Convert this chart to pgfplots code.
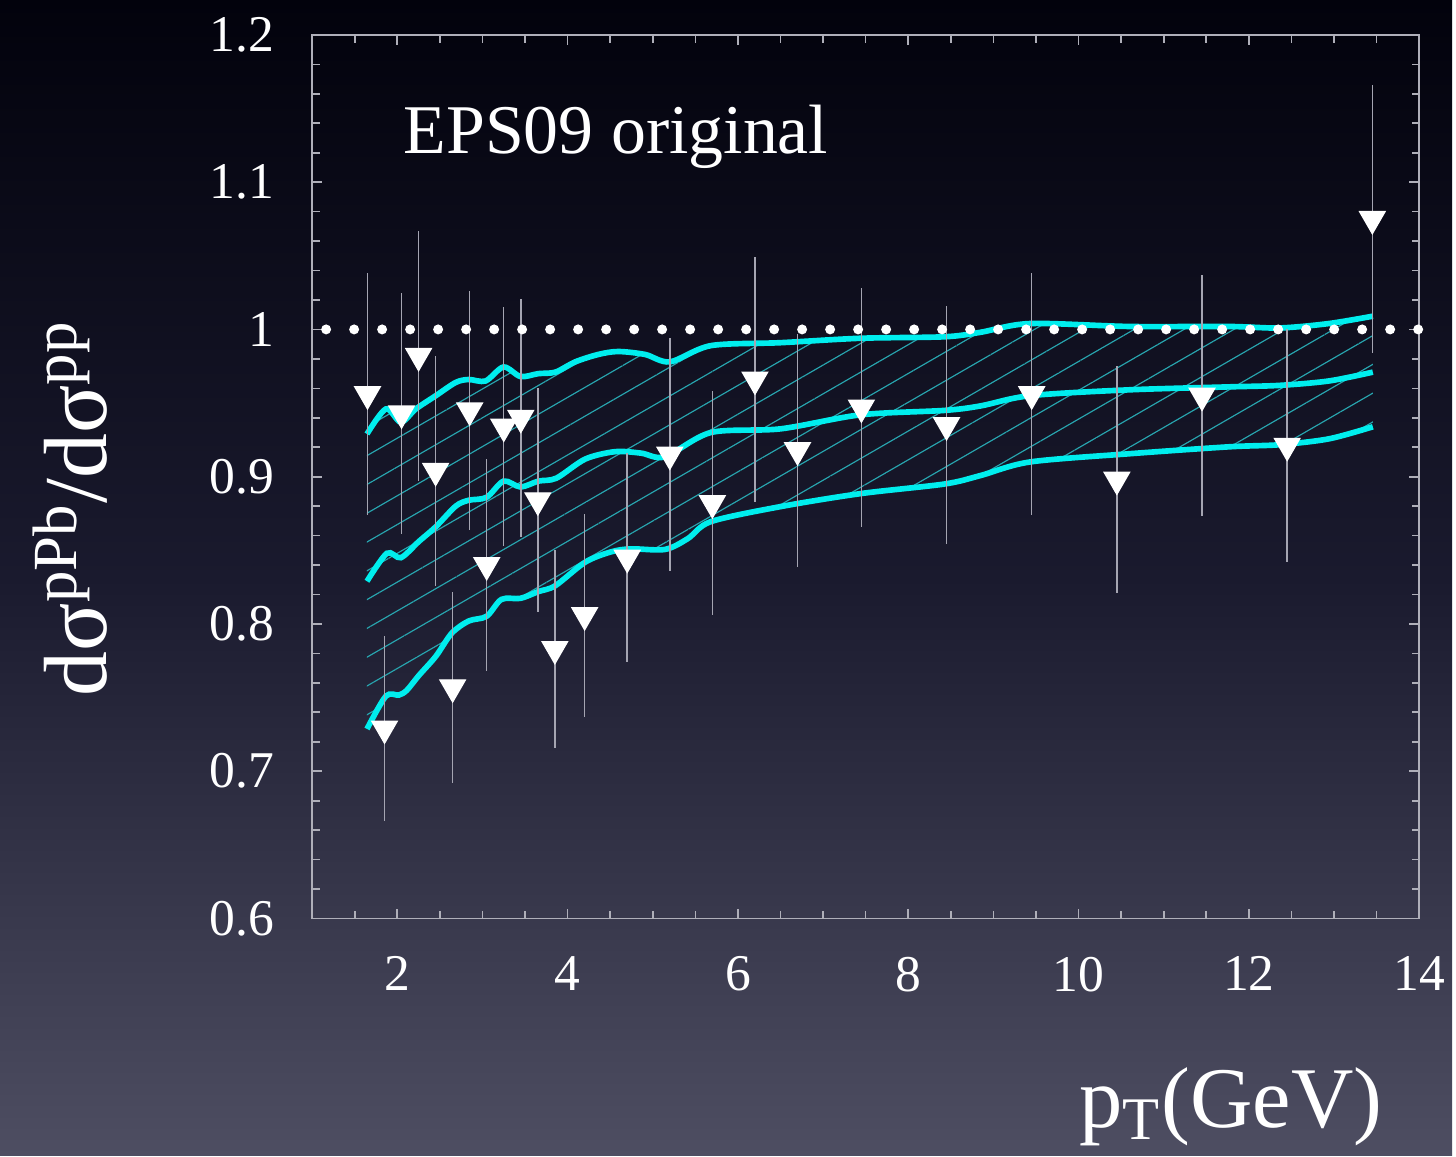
\documentclass[border=0pt]{standalone}
\usepackage{fontspec}
\setmainfont{Liberation Serif}
\usepackage{pgfplots}
\pgfplotsset{compat=1.18}
\usepgfplotslibrary{fillbetween}
\usetikzlibrary{patterns.meta}
\definecolor{bgtop}{RGB}{2,2,12}
\definecolor{bgmid}{RGB}{26,26,46}
\definecolor{bgbot}{RGB}{78,78,98}
\definecolor{curve}{RGB}{0,238,238}
\definecolor{hatch}{RGB}{40,165,175}
\definecolor{axgray}{RGB}{175,175,185}
\definecolor{errgray}{RGB}{165,165,178}

\pgfplotstableread{
x y e
1.65 0.956 0.082
1.85 0.729 0.063
2.05 0.943 0.082
2.25 0.982 0.085
2.45 0.904 0.078
2.65 0.757 0.065
2.85 0.945 0.081
3.05 0.840 0.072
3.25 0.934 0.081
3.45 0.940 0.081
3.65 0.884 0.076
3.85 0.783 0.067
4.2 0.806 0.069
4.7 0.845 0.071
5.2 0.915 0.079
5.7 0.882 0.076
6.2 0.966 0.083
6.7 0.918 0.079
7.45 0.947 0.081
8.45 0.935 0.081
9.45 0.956 0.082
10.45 0.898 0.077
11.45 0.955 0.082
12.45 0.921 0.079
13.45 1.075 0.091
}\datatable

\begin{document}
\begin{tikzpicture}
\begin{axis}[
  at={(0,0)}, anchor=south west,
  scale only axis, width=333pt, height=265.8pt,
  xmin=1, xmax=14, ymin=0.6, ymax=1.2,
  clip=false,
  set layers,
  xtick={2,4,6,8,10,12,14},
  ytick={0.6,0.7,0.8,0.9,1,1.1,1.2},
  minor xtick={1,1.5,...,14},
  minor ytick={0.6,0.62,...,1.19},
  xtick pos=both, ytick pos=both,
  xticklabel pos=lower, yticklabel pos=left,
  tick align=inside,
  major tick length=3pt, minor tick length=2.3pt,
  tick style={axgray, line width=0.5pt},
  axis line style={axgray, line width=0.5pt},
  /pgf/number format/assume math mode=true,
  yticklabel style={/pgf/number format/fixed, /pgf/number format/precision=1, xshift=-8pt},
  xticklabel style={yshift=-8pt},
  tick label style={white, font=\fontsize{15.5}{18}\selectfont},
  xlabel={p\textsubscript{T}(GeV)},
  xlabel style={at={(axis description cs:0.83,-0.213)}, anchor=center, white, font=\fontsize{26}{30}\selectfont},
  ylabel={dσ\textsuperscript{pPb}/dσ\textsuperscript{pp}},
  ylabel style={at={(axis description cs:-0.219,0.464)}, anchor=center, white, font=\fontsize{27}{30}\selectfont},
]
\begin{pgfonlayer}{axis background}
\shade[top color=bgtop, bottom color=bgbot, middle color=bgmid]
  (rel axis cs:-0.28198,-0.26862) rectangle (rel axis cs:1.02973,1.03950);
\end{pgfonlayer}
% upper curve
\addplot[name path=up, curve, line width=1.7pt, smooth, tension=0.5] coordinates {
(1.644,0.929) (1.866,0.946) (2.042,0.937) (2.218,0.946) (2.452,0.955) (2.686,0.964)
(2.838,0.966) (3.037,0.965) (3.248,0.9745) (3.447,0.968) (3.657,0.970) (3.856,0.971)
(4.091,0.978) (4.36,0.983) (4.594,0.985) (4.91,0.983) (5.203,0.978) (5.683,0.989)
(6.502,0.991) (7.439,0.994) (8.422,0.995) (8.844,0.998) (9.43,1.004) (10.6,1.002)
(11.77,1.002) (12.36,1.001) (12.94,1.004) (13.456,1.009)};
% central curve
\addplot[curve, line width=1.7pt, smooth, tension=0.5] coordinates {
(1.644,0.829) (1.878,0.848) (2.042,0.845) (2.253,0.856) (2.452,0.866) (2.686,0.880)
(2.838,0.884) (3.049,0.886) (3.248,0.897) (3.447,0.893) (3.657,0.897) (3.868,0.899)
(4.208,0.912) (4.559,0.917) (4.863,0.916) (5.144,0.9135) (5.683,0.930) (6.502,0.9325)
(7.439,0.942) (8.422,0.945) (8.844,0.948) (9.43,0.955) (10.6,0.959) (11.77,0.961)
(12.36,0.962) (12.94,0.965) (13.456,0.971)};
% lower curve
\addplot[name path=lo, curve, line width=1.7pt, smooth, tension=0.5] coordinates {
(1.644,0.7287) (1.866,0.751) (2.018,0.7517) (2.112,0.755) (2.253,0.765) (2.452,0.778)
(2.639,0.7937) (2.838,0.802) (3.049,0.8052) (3.224,0.8167) (3.447,0.8174) (3.657,0.822)
(3.856,0.826) (4.208,0.842) (4.512,0.849) (4.746,0.851) (5.144,0.8506) (5.413,0.858)
(5.683,0.8695) (6.502,0.8797) (7.439,0.8885) (8.422,0.895) (8.844,0.9007) (9.43,0.910)
(10.6,0.9156) (11.77,0.9203) (12.36,0.9217) (12.94,0.9257) (13.456,0.9339)};
\addplot[draw=none, pattern={Lines[angle=30,distance=7.5pt,line width=0.35pt]}, pattern color=hatch] fill between[of=up and lo];
% data
\addplot[only marks, mark=triangle*, mark size=4.4pt,
  mark options={draw=white, fill=white, rotate=180},
  error bars/.cd, y dir=both, y explicit, error mark=none,
  error bar style={errgray, line width=0.45pt}]
  table[x=x, y=y, y error=e] {\datatable};
% dotted unity line
\addplot[white, line width=3pt, line cap=round, dash pattern=on 0pt off 8.423pt] coordinates {(1.164,1) (14,1)};
\node[anchor=west, white, font=\fontsize{21}{25}\selectfont] at (axis description cs:0.072,0.885) {EPS09 original};
\end{axis}
\end{tikzpicture}
\end{document}
